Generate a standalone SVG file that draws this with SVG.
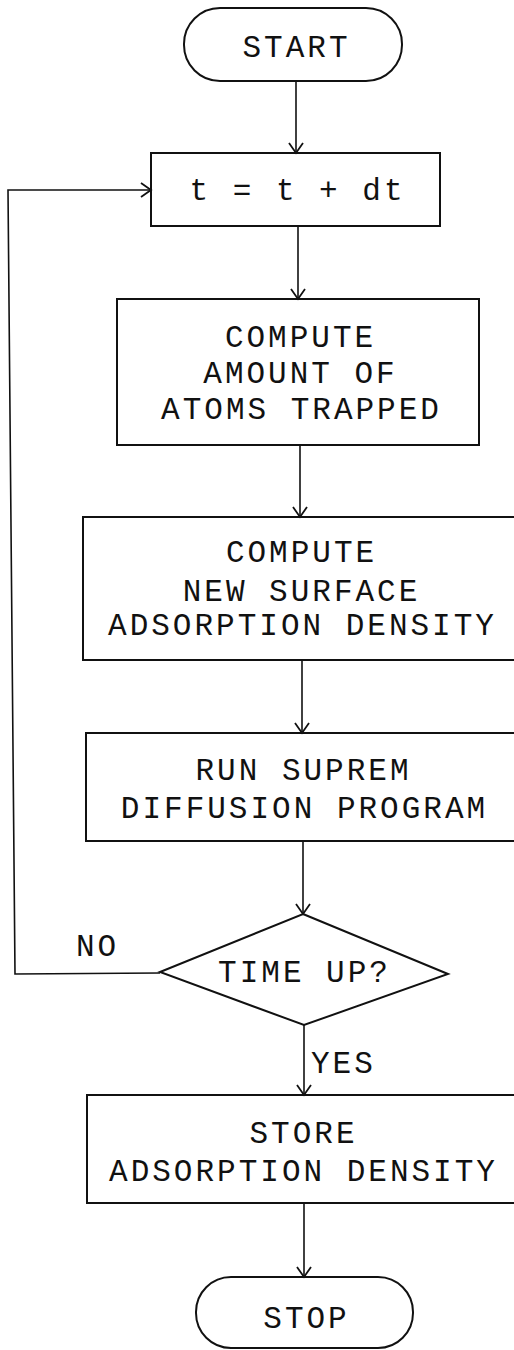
<svg xmlns="http://www.w3.org/2000/svg" width="514" height="1350" viewBox="0 0 514 1350">
<style>
.shape{fill:none;stroke:#111;stroke-width:2}
.conn{fill:none;stroke:#111;stroke-width:1.6}
text{font-family:"Liberation Mono","DejaVu Sans Mono",monospace;font-size:31px;letter-spacing:3px;fill:#111;text-anchor:middle}
.lbl{text-anchor:start}
</style>
<defs>
<marker id="arr" markerUnits="userSpaceOnUse" markerWidth="14" markerHeight="16" refX="11" refY="7" orient="auto" viewBox="0 0 14 14">
<path d="M1,0 L11,7 L1,14" fill="none" stroke="#111" stroke-width="1.8"/>
</marker>
</defs>
<rect width="514" height="1350" fill="#fff"/>
<g id="connectors">
<line class="conn" x1="296" y1="81" x2="296" y2="153" marker-end="url(#arr)"/>
<line class="conn" x1="298" y1="226" x2="298" y2="299" marker-end="url(#arr)"/>
<line class="conn" x1="300" y1="445" x2="300" y2="517" marker-end="url(#arr)"/>
<line class="conn" x1="302" y1="660" x2="302" y2="733" marker-end="url(#arr)"/>
<line class="conn" x1="303" y1="841" x2="303" y2="914" marker-end="url(#arr)"/>
<line class="conn" x1="304" y1="1025" x2="304" y2="1095" marker-end="url(#arr)"/>
<line class="conn" x1="304" y1="1203" x2="304" y2="1277" marker-end="url(#arr)"/>
<polyline class="conn" points="160,973 15,974 8,190 151,190" marker-end="url(#arr)"/>
<text class="lbl" x="76" y="956">NO</text>
<text class="lbl" x="311" y="1073">YES</text>
</g>
<g id="start">
<rect class="shape" x="184" y="8" width="218" height="73" rx="36" ry="36"/>
<text x="296.5" y="57">START</text>
</g>
<g id="step-t">
<rect class="shape" x="151" y="153" width="289" height="73"/>
<text x="297.5" y="200">t = t + dt</text>
</g>
<g id="compute-trapped">
<rect class="shape" x="117" y="299" width="362" height="146"/>
<text x="300.5" y="347">COMPUTE</text>
<text x="300.5" y="383">AMOUNT OF</text>
<text x="301.5" y="419">ATOMS TRAPPED</text>
</g>
<g id="compute-density">
<rect class="shape" x="83" y="517" width="445" height="143"/>
<text x="301.5" y="562">COMPUTE</text>
<text x="301.5" y="601">NEW SURFACE</text>
<text x="302.5" y="635">ADSORPTION DENSITY</text>
</g>
<g id="run-suprem">
<rect class="shape" x="86" y="733" width="442" height="108"/>
<text x="303.5" y="780">RUN SUPREM</text>
<text x="304.5" y="818">DIFFUSION PROGRAM</text>
</g>
<g id="time-up">
<polygon class="shape" points="303,914 448,974 304,1025 160,972"/>
<text x="304.5" y="982">TIME UP?</text>
</g>
<g id="store">
<rect class="shape" x="87" y="1095" width="441" height="108"/>
<text x="303.5" y="1143">STORE</text>
<text x="303.5" y="1181">ADSORPTION DENSITY</text>
</g>
<g id="stop">
<rect class="shape" x="196" y="1277" width="217" height="71" rx="35" ry="35"/>
<text x="306.5" y="1328">STOP</text>
</g>
</svg>
